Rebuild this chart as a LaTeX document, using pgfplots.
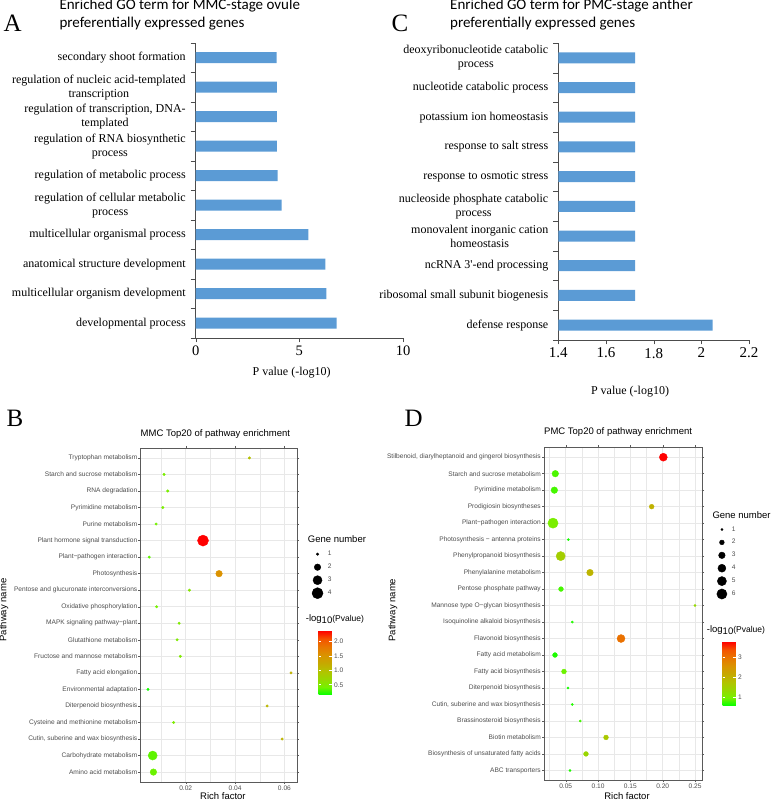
\documentclass[border=0pt]{standalone}
\usepackage{fontspec}
\setmainfont{Liberation Serif}
\newfontfamily\calib{Carlito}
\newfontfamily\arial{Liberation Sans}
\usepackage{pgfplots}
\usepackage{pgfplotstable}
\pgfplotsset{compat=1.18}

\definecolor{barblue}{RGB}{91,155,213}
\definecolor{ggtext}{RGB}{77,77,77}
\definecolor{gggrid}{RGB}{232,232,232}
\definecolor{ggborder}{RGB}{90,90,90}

\pgfplotsset{
  colormap={ggrg}{rgb255=(0,255,0) rgb255=(118,241,0) rgb255=(152,215,0)
    rgb255=(179,194,0) rgb255=(198,168,0) rgb255=(218,147,0)
    rgb255=(232,118,0) rgb255=(244,83,0) rgb255=(255,0,0)},
  gobar/.style={
    scale only axis, xbar, bar width=11pt,
    ymin=-0.5, ymax=9.5, ytick={0,...,9},
    minor ytick={-0.5,0.5,...,9.5},
    major y tick style={draw=none},
    tick align=outside, major tick length=4.5pt, minor tick length=5pt,
    axis x line*=bottom, axis y line*=left,
    axis line style={-, black!70}, tick style={black!70},
    yticklabel style={align=center, font=\fontsize{12}{14.3}\selectfont, xshift=-2pt},
    /pgf/number format/assume math mode=true,
    xlabel style={font=\fontsize{12}{14}\selectfont, at={(axis description cs:0.5,0)}, anchor=center},
  },
  ggax/.style={
    scale only axis,
    axis line style={ggborder, line width=0.5pt},
    tick style={ggborder, line width=0.4pt},
    tick align=outside, major tick length=2pt, minor tick length=0pt,
    xmajorgrids, xminorgrids, ymajorgrids,
    major grid style={gggrid, line width=0.7pt},
    minor grid style={gggrid, line width=0.35pt},
    ymin=-0.6, ymax=19.6, ytick={0,...,19},
    tick label style={font=\arial\fontsize{6.6}{7}\selectfont, text=ggtext},
    yticklabel style={inner sep=1pt},
    xticklabel style={inner sep=1.5pt},
    scaled x ticks=false,
    /pgf/number format/assume math mode=true,
    /pgf/number format/fixed, /pgf/number format/fixed zerofill,
    /pgf/number format/precision=2,
    colormap name=ggrg,
    title style={at={(axis description cs:0,1)}, anchor=base west, inner sep=0pt,
      font=\arial\fontsize{9.5}{10}\selectfont},
    xlabel style={at={(axis description cs:0.5,0)}, anchor=base, inner sep=0pt,
      font=\arial\fontsize{9.5}{10}\selectfont},
    ylabel style={anchor=center, inner sep=0pt, font=\arial\fontsize{9.5}{10}\selectfont},
    legend cell align=left,
    legend image code/.code={\draw[#1] plot coordinates {(0pt,0pt)};},
  },
  ggbar/.style={
    at={(parent axis.south east)}, anchor=south west,
    scale only axis, width=13.3pt, height=64.3pt,
    axis line style={draw=none},
    tick style={white, line width=0.5pt},
    major tick length=2.6pt, tick align=inside,
    ytick pos=both, yticklabel pos=right,
    yticklabel style={font=\arial\fontsize{6.6}{7}\selectfont, text=ggtext, inner sep=2pt},
    /pgf/number format/assume math mode=true,
  },
}

% GO enrichment, MMC-stage ovule (A)
\pgfplotstableread{
y v
0 6.80
1 6.30
2 6.25
3 5.43
4 4.15
5 3.95
6 3.92
7 3.92
8 3.92
9 3.90
}\goA

% GO enrichment, PMC-stage anther (C)
\pgfplotstableread{
y v
0 2.047
1 1.722
2 1.722
3 1.722
4 1.722
5 1.722
6 1.722
7 1.722
8 1.722
9 1.722
}\goC

% KEGG top20, MMC (B): row, rich factor, gene number, -log10(P)
\pgfplotstableread{
y rf gn lp
19 0.0458 1 1.00
18 0.0112 1 0.46
17 0.0127 1 0.46
16 0.0107 1 0.46
15 0.0080 1 0.42
14 0.0270 4 2.37
13 0.0052 1 0.37
12 0.0335 2 1.55
11 0.0215 1 0.55
10 0.0082 1 0.42
9 0.0173 1 0.50
8 0.0165 1 0.50
7 0.0178 1 0.50
6 0.0627 1 1.15
5 0.0047 1 0.19
4 0.0530 1 1.10
3 0.0151 1 0.48
2 0.0591 1 1.12
1 0.0066 3 0.37
0 0.0069 2 0.40
}\keggB

% KEGG top20, PMC (D)
\pgfplotstableread{
y rf gn lp
19 0.2009 4 3.80
18 0.0339 3 0.84
17 0.0324 3 0.82
16 0.1829 2 2.05
15 0.0303 6 1.03
14 0.0540 1 0.65
13 0.0422 5 1.55
12 0.0875 3 2.00
11 0.0427 2 0.82
10 0.2499 1 1.35
9 0.0602 1 0.70
8 0.1355 4 3.05
7 0.0334 2 0.68
6 0.0473 2 0.95
5 0.0535 1 0.65
4 0.0602 1 0.70
3 0.0725 1 0.80
2 0.1123 2 1.65
1 0.0813 2 1.40
0 0.0566 1 0.68
}\keggD

\begin{document}
\begin{tikzpicture}
\useasboundingbox (0pt,0pt) rectangle (775pt,801pt);

% ---------------- A ----------------
\begin{axis}[gobar,
  at={(195.7pt,463pt)}, anchor=south west,
  width=207.3pt, height=295pt,
  xmin=0, xmax=10, xtick={0,5,10},
  xticklabel style={font=\fontsize{14.5}{16}\selectfont},
  yticklabels={{developmental process},
    {multicellular organism development},
    {anatomical structure development},
    {multicellular organismal process},
    {regulation of cellular metabolic\\process},
    {regulation of metabolic process},
    {regulation of RNA biosynthetic\\process},
    {regulation of transcription, DNA-\\templated},
    {regulation of nucleic acid-templated\\transcription},
    {secondary shoot formation}},
  xlabel={P value (-log10)},
  xlabel style={yshift=-35pt, xshift=-7.7pt},
]
\addplot[fill=barblue, draw=none] table[x=v, y=y] {\goA};
\end{axis}

% ---------------- C ----------------
\begin{axis}[gobar,
  at={(558.3pt,461pt)}, anchor=south west,
  width=190.7pt, height=297pt,
  xmin=1.4, xmax=2.2, xtick={1.4,1.6,1.8,2,2.2},
  xticklabel style={font=\fontsize{15}{16}\selectfont},
  yticklabels={{defense response},
    {ribosomal small subunit biogenesis},
    {ncRNA 3\textquotesingle-end processing},
    {monovalent inorganic cation\\homeostasis},
    {nucleoside phosphate catabolic\\process},
    {response to osmotic stress},
    {response to salt stress},
    {potassium ion homeostasis},
    {nucleotide catabolic process},
    {deoxyribonucleotide catabolic\\process}},
  xlabel={P value (-log10)},
  xlabel style={yshift=-51.7pt, xshift=-23.6pt},
]
\addplot[fill=barblue, draw=none] table[x=v, y=y] {\goC};
\end{axis}

% ---------------- B ----------------
\begin{axis}[ggax,
  at={(140.5pt,19pt)}, anchor=south west,
  width=156.5pt, height=334pt,
  xmin=0.00166, xmax=0.0651,
  xtick={0.02,0.04,0.06}, minor xtick={0.01,0.03,0.05},
  yticklabels={Amino acid metabolism, Carbohydrate metabolism,
    {Cutin, suberine and wax biosynthesis}, Cysteine and methionine metabolism,
    Diterpenoid biosynthesis, Environmental adaptation, Fatty acid elongation,
    Fructose and mannose metabolism, Glutathione metabolism,
    MAPK signaling pathway−plant, Oxidative phosphorylation,
    Pentose and glucuronate interconversions, Photosynthesis,
    Plant−pathogen interaction, Plant hormone signal transduction,
    Purine metabolism, Pyrimidine metabolism, RNA degradation,
    Starch and sucrose metabolism, Tryptophan metabolism},
  title={MMC Top20 of pathway enrichment},
  title style={yshift=5.6pt},
  xlabel={Rich factor}, xlabel style={yshift=-17pt, xshift=4.2pt},
  ylabel={Pathway name},
  ylabel style={at={(axis description cs:-0.872,0.515)}},
  point meta min=0.145, point meta max=2.37,
  colorbar,
  colorbar style={ggbar, xshift=13pt, yshift=87pt, ytick={0.5,1,1.5,2},
    yticklabel style={/pgf/number format/fixed, /pgf/number format/fixed zerofill,
      /pgf/number format/precision=1}},
  legend style={at={(axis description cs:1.0946,0.7021)}, anchor=north west,
    draw=none, fill=none, inner sep=0pt, row sep=0pt, column sep=4.9pt,
    font=\arial\fontsize{6.6}{7}\selectfont, text=ggtext,
    nodes={inner sep=0pt, minimum height=13pt}},
]
\addplot[scatter, only marks, mark=*, forget plot,
  scatter/use mapped color={draw=mapped color, fill=mapped color},
  point meta=explicit,
  visualization depends on={\thisrow{gn} \as \gn},
  scatter/@pre marker code/.append style={/tikz/mark size={max(1.25,0.92*sqrt(1+35*(\gn-1)/3))}},
] table[x=rf, y=y, meta=lp] {\keggB};
\addlegendimage{only marks, mark=*, black, mark size=1.25}
\addlegendentry{1}
\addlegendimage{only marks, mark=*, black, mark size=3.27}
\addlegendentry{2}
\addlegendimage{only marks, mark=*, black, mark size=4.54}
\addlegendentry{3}
\addlegendimage{only marks, mark=*, black, mark size=5.52}
\addlegendentry{4}
\end{axis}

% ---------------- D ----------------
\begin{axis}[ggax,
  at={(544pt,20.7pt)}, anchor=south west,
  width=158pt, height=333pt,
  xmin=0.0164, xmax=0.2607,
  xtick={0.05,0.10,0.15,0.20,0.25}, minor xtick={0.025,0.075,0.125,0.175,0.225},
  yticklabels={ABC transporters, Biosynthesis of unsaturated fatty acids,
    Biotin metabolism, Brassinosteroid biosynthesis,
    {Cutin, suberine and wax biosynthesis}, Diterpenoid biosynthesis,
    Fatty acid biosynthesis, Fatty acid metabolism, Flavonoid biosynthesis,
    Isoquinoline alkaloid biosynthesis, Mannose type O−glycan biosynthesis,
    Pentose phosphate pathway, Phenylalanine metabolism,
    Phenylpropanoid biosynthesis, Photosynthesis − antenna proteins,
    Plant−pathogen interaction, Prodigiosin biosyntheses,
    Pyrimidine metabolism, Starch and sucrose metabolism,
    {Stilbenoid, diarylheptanoid and gingerol biosynthesis}},
  title={PMC Top20 of pathway enrichment},
  title style={yshift=6.5pt},
  xlabel={Rich factor}, xlabel style={yshift=-19pt, xshift=4pt},
  ylabel={Pathway name},
  ylabel style={at={(axis description cs:-0.956,0.511)}},
  point meta min=0.58, point meta max=3.8,
  colorbar,
  colorbar style={ggbar, xshift=12pt, yshift=74.3pt, ytick={1,2,3},
    yticklabel style={/pgf/number format/precision=0}},
  legend style={at={(axis description cs:1.0924,0.7731)}, anchor=north west,
    draw=none, fill=none, inner sep=0pt, row sep=0pt, column sep=4.9pt,
    font=\arial\fontsize{6.6}{7}\selectfont, text=ggtext,
    nodes={inner sep=0pt, minimum height=12.9pt}},
]
\addplot[scatter, only marks, mark=*, forget plot,
  scatter/use mapped color={draw=mapped color, fill=mapped color},
  point meta=explicit,
  visualization depends on={\thisrow{gn} \as \gn},
  scatter/@pre marker code/.append style={/tikz/mark size={max(1.1,0.85*sqrt(1+7*(\gn-1)))}},
] table[x=rf, y=y, meta=lp] {\keggD};
\addlegendimage{only marks, mark=*, black, mark size=1.1}
\addlegendentry{1}
\addlegendimage{only marks, mark=*, black, mark size=2.40}
\addlegendentry{2}
\addlegendimage{only marks, mark=*, black, mark size=3.29}
\addlegendentry{3}
\addlegendimage{only marks, mark=*, black, mark size=3.99}
\addlegendentry{4}
\addlegendimage{only marks, mark=*, black, mark size=4.58}
\addlegendentry{5}
\addlegendimage{only marks, mark=*, black, mark size=5.10}
\addlegendentry{6}
\end{axis}

% ---------------- titles, letters, legend titles ----------------
\node[anchor=base west, inner sep=0pt, align=left, font=\calib\fontsize{15}{18}\selectfont]
  at (59.3pt,773pt) {Enriched GO term for MMC-stage ovule\\preferentially expressed genes};
\node[anchor=base west, inner sep=0pt, align=left, font=\calib\fontsize{15}{18}\selectfont]
  at (450pt,773pt) {Enriched GO term for PMC-stage anther\\preferentially expressed genes};
\node[anchor=base west, inner sep=0pt, font=\fontsize{25}{25}\selectfont] at (3.5pt,769pt) {A};
\node[anchor=base west, inner sep=0pt, font=\fontsize{25}{25}\selectfont] at (391.5pt,769pt) {C};
\node[anchor=base west, inner sep=0pt, font=\fontsize{25}{25}\selectfont] at (6.5pt,374pt) {B};
\node[anchor=base west, inner sep=0pt, font=\fontsize{25}{25}\selectfont] at (404.5pt,374pt) {D};

\node[anchor=west, inner sep=0pt, font=\arial\fontsize{9.5}{10}\selectfont] at (307.7pt,261.7pt) {Gene number};
\node[anchor=west, inner sep=0pt, font=\arial\fontsize{9.5}{10}\selectfont] at (305.7pt,181.7pt)
  {-log\raisebox{-2pt}{10}{\fontsize{8.5}{9}\selectfont(Pvalue)}};
\node[anchor=west, inner sep=0pt, font=\arial\fontsize{9.5}{10}\selectfont] at (712.3pt,286pt) {Gene number};
\node[anchor=west, inner sep=0pt, font=\arial\fontsize{9.5}{10}\selectfont] at (706.7pt,171pt)
  {-log\raisebox{-2pt}{10}{\fontsize{8.5}{9}\selectfont(Pvalue)}};
\end{tikzpicture}
\end{document}
